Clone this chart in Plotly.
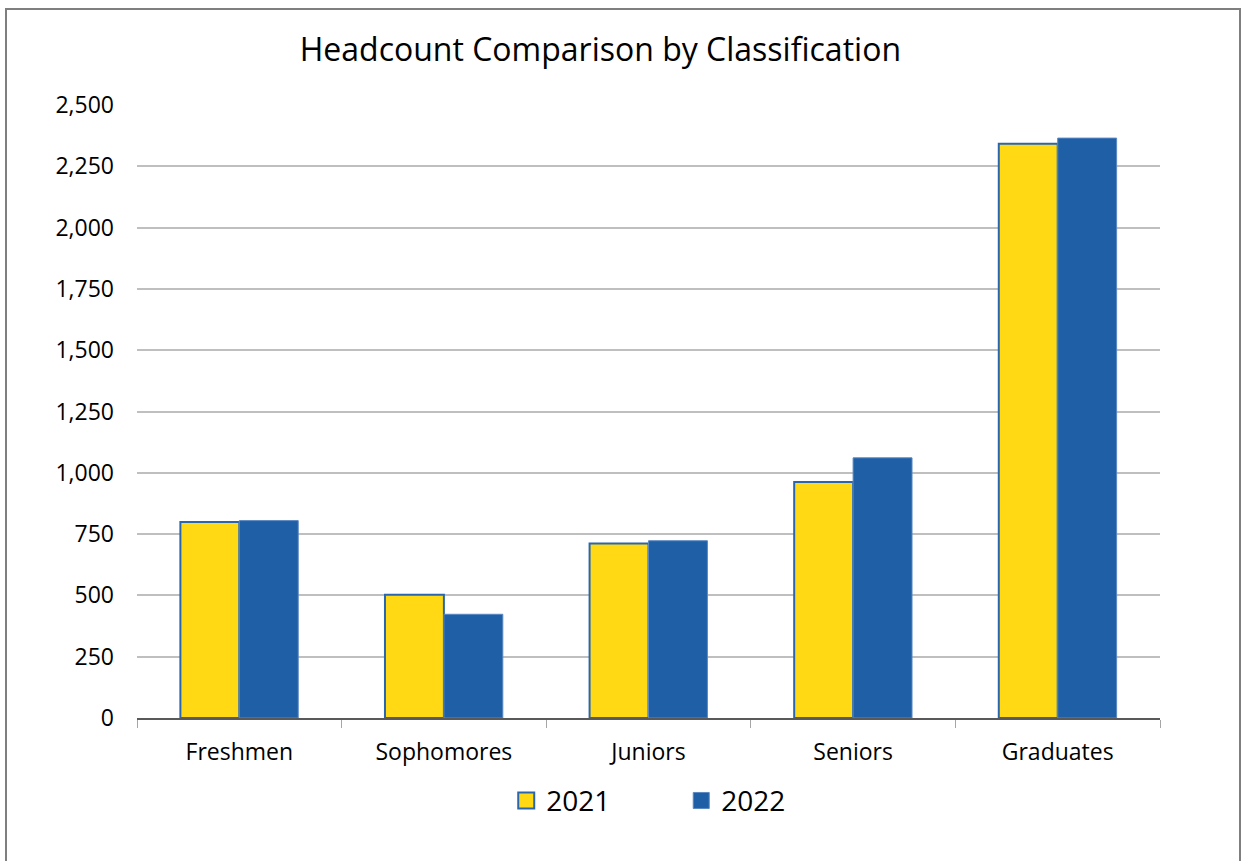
import plotly.graph_objects as go

categories = ["Freshmen", "Sophomores", "Juniors", "Seniors", "Graduates"]
values_2021 = [799, 503, 712, 962, 2342]
values_2022 = [805, 423, 723, 1061, 2365]
y_ticks = [0, 250, 500, 750, 1000, 1250, 1500, 1750, 2000, 2250, 2500]
y_tick_labels = [f"{v:,}" for v in y_ticks]

YELLOW = "#FFDA14"
BLUE = "#1F5FA6"
FONT = "Open Sans"

fig = go.Figure()
fig.add_trace(go.Bar(
    name="2021", x=categories, y=values_2021, showlegend=False,
    marker=dict(color=YELLOW, line=dict(color="#2A66AE", width=2)),
))
fig.add_trace(go.Bar(
    name="2022", x=categories, y=values_2022, showlegend=False,
    marker=dict(color=BLUE, line=dict(color="#5A88C2", width=1)),
))
# legend entries with larger square swatches
fig.add_trace(go.Scatter(
    name="2021", x=[None], y=[None], mode="markers",
    marker=dict(symbol="square", size=20, color=YELLOW,
                line=dict(color="#2A66AE", width=2)),
))
fig.add_trace(go.Scatter(
    name="2022", x=[None], y=[None], mode="markers",
    marker=dict(symbol="square", size=20, color=BLUE,
                line=dict(color="#5A88C2", width=1)),
))

fig.update_layout(
    width=1243, height=861,
    margin=dict(l=137, r=83, t=105, b=143),
    paper_bgcolor="white", plot_bgcolor="white",
    barmode="group", bargap=0.424, bargroupgap=0,
    font=dict(family=FONT, color="black"),
    title=dict(text="Headcount Comparison by Classification",
               x=0.483, xanchor="center", xref="container",
               y=1 - 50 / 861, yanchor="middle", yref="container",
               font=dict(size=32, family=FONT, color="black")),
    showlegend=True,
    legend=dict(orientation="h", x=0.532, xanchor="center",
                y=-0.135, yanchor="middle",
                font=dict(size=28, family=FONT, color="black"),
                itemwidth=30, tracegroupgap=0,
                entrywidthmode="pixels", entrywidth=130),
)

fig.update_xaxes(
    type="category",
    showline=True, linecolor="#595959", linewidth=2,
    ticks="outside", tickson="boundaries", ticklen=8, tickcolor="#A6A6A6", tickwidth=1,
    showgrid=False,
    tickfont=dict(size=23, family=FONT, color="black"),
    ticklabelstandoff=12,
)
fig.update_yaxes(
    range=[0, 2500], tickvals=y_ticks, ticktext=y_tick_labels,
    showgrid=True, gridcolor="#BFBFBF", gridwidth=2,
    showline=False, zeroline=False, ticks="",
    tickfont=dict(size=23, family=FONT, color="black"),
    ticklabelstandoff=22,
)

# outer chart border
fig.add_shape(type="rect", xref="paper", yref="paper",
              x0=(6 - 137) / 1023, x1=(1240 - 137) / 1023,
              y0=(718 - 870) / 613, y1=(718 - 9) / 613,
              line=dict(color="#7F7F7F", width=2), fillcolor="rgba(0,0,0,0)",
              layer="below")

fig.write_html("out.html",
               config={"displayModeBar": False},
               post_script="document.body.style.margin='0';document.body.style.overflow='hidden';")
